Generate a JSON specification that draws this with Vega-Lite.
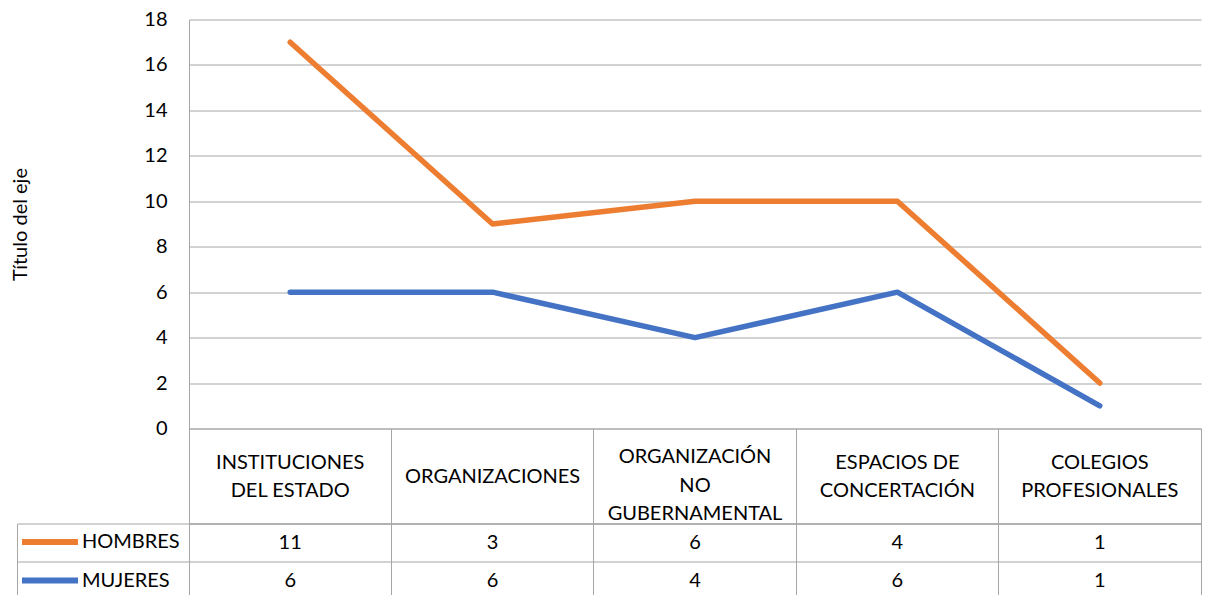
{
  "$schema": "https://vega.github.io/schema/vega-lite/v6.json",
  "padding": {"left": 10, "top": 9.5, "right": 0, "bottom": 0},
  "background": "white",
  "config": {"font": "Lato", "view": {"stroke": null}},
  "datasets": {
    "d": [
      {"cat": "INSTITUCIONES DEL ESTADO", "serie": "HOMBRES", "value": 11},
      {"cat": "ORGANIZACIONES", "serie": "HOMBRES", "value": 3},
      {"cat": "ORGANIZACIÓN NO GUBERNAMENTAL", "serie": "HOMBRES", "value": 6},
      {"cat": "ESPACIOS DE CONCERTACIÓN", "serie": "HOMBRES", "value": 4},
      {"cat": "COLEGIOS PROFESIONALES", "serie": "HOMBRES", "value": 1},
      {"cat": "INSTITUCIONES DEL ESTADO", "serie": "MUJERES", "value": 6},
      {"cat": "ORGANIZACIONES", "serie": "MUJERES", "value": 6},
      {"cat": "ORGANIZACIÓN NO GUBERNAMENTAL", "serie": "MUJERES", "value": 4},
      {"cat": "ESPACIOS DE CONCERTACIÓN", "serie": "MUJERES", "value": 6},
      {"cat": "COLEGIOS PROFESIONALES", "serie": "MUJERES", "value": 1}
    ]
  },
  "bounds": "flush",
  "spacing": 0,
  "hconcat": [
    {
      "width": 172,
      "height": 581,
      "data": {"name": "d"},
      "mark": {"type": "point", "opacity": 0},
      "encoding": {
        "y": {
          "field": "serie",
          "type": "nominal",
          "scale": {"type": "band", "domain": ["HOMBRES", "MUJERES"], "range": [504, 581], "paddingInner": 0, "paddingOuter": 0},
          "axis": {"title": null, "labels": false, "ticks": false, "domain": true, "domainColor": "#A6A6A6", "grid": true, "gridColor": "#A6A6A6", "bandPosition": 0}
        }
      }
    },
    {
      "bounds": "flush",
      "spacing": 0,
      "vconcat": [
        {
          "width": 1012,
          "height": 409,
          "data": {"name": "d"},
          "transform": [
            {"stack": "value", "groupby": ["cat"], "sort": [{"field": "serie", "order": "descending"}], "as": ["v0", "v1"]}
          ],
          "mark": {"type": "line", "strokeWidth": 5.5, "strokeCap": "round", "strokeJoin": "round"},
          "encoding": {
            "x": {
              "field": "cat",
              "type": "nominal",
              "sort": ["INSTITUCIONES DEL ESTADO", "ORGANIZACIONES", "ORGANIZACIÓN NO GUBERNAMENTAL", "ESPACIOS DE CONCERTACIÓN", "COLEGIOS PROFESIONALES"],
              "scale": {"type": "point", "padding": 0.5},
              "axis": null
            },
            "y": {
              "field": "v1",
              "type": "quantitative",
              "scale": {"domain": [0, 18], "nice": false},
              "axis": {
                "values": [0, 2, 4, 6, 8, 10, 12, 14, 16, 18],
                "title": "Título del eje",
                "titleFontSize": 20,
                "titleFontWeight": "normal",
                "titleColor": "#000000",
                "titlePadding": 113,
                "labelFontSize": 20,
                "labelColor": "#000000",
                "labelPadding": 22,
                "ticks": false,
                "domainColor": "#A6A6A6",
                "gridColor": "#A6A6A6"
              }
            },
            "color": {
              "field": "serie",
              "type": "nominal",
              "scale": {"domain": ["HOMBRES", "MUJERES"], "range": ["#ED7D31", "#4472C4"]},
              "legend": {
                "orient": "none",
                "legendX": 2,
                "legendY": 512.5,
                "title": null,
                "symbolType": "stroke",
                "symbolSize": 3136,
                "symbolStrokeWidth": 6,
                "clipHeight": 20,
                "labelFontSize": 20,
                "labelColor": "#000000",
                "labelOffset": 1,
                "rowPadding": 18.5
              }
            }
          }
        },
        {
          "width": 1012,
          "height": 95,
          "view": {"stroke": "#A6A6A6"},
          "data": {"name": "d"},
          "transform": [{"filter": "datum.serie === 'HOMBRES'"}],
          "encoding": {
            "x": {
              "field": "cat",
              "type": "nominal",
              "sort": ["INSTITUCIONES DEL ESTADO", "ORGANIZACIONES", "ORGANIZACIÓN NO GUBERNAMENTAL", "ESPACIOS DE CONCERTACIÓN", "COLEGIOS PROFESIONALES"],
              "scale": {"type": "band", "paddingInner": 0, "paddingOuter": 0},
              "axis": {"title": null, "labels": false, "ticks": false, "domain": false, "grid": true, "gridColor": "#A6A6A6", "bandPosition": 0}
            }
          },
          "layer": [
            {
              "transform": [{"filter": "datum.cat === 'ORGANIZACIONES'"}],
              "mark": {"type": "text", "fontSize": 20, "baseline": "middle", "align": "center", "color": "#000000", "dy": 1},
              "encoding": {"text": {"field": "cat", "type": "nominal"}}
            },
            {
              "transform": [{"filter": "datum.cat === 'INSTITUCIONES DEL ESTADO' || datum.cat === 'ESPACIOS DE CONCERTACIÓN' || datum.cat === 'COLEGIOS PROFESIONALES'"}],
              "mark": {"type": "text", "fontSize": 20, "lineHeight": 28.5, "baseline": "middle", "align": "center", "color": "#000000", "dy": -13.5},
              "encoding": {
                "text": {
                  "condition": [
                    {"test": "datum.cat === 'INSTITUCIONES DEL ESTADO'", "value": ["INSTITUCIONES", "DEL ESTADO"]},
                    {"test": "datum.cat === 'ESPACIOS DE CONCERTACIÓN'", "value": ["ESPACIOS DE", "CONCERTACIÓN"]},
                    {"test": "datum.cat === 'COLEGIOS PROFESIONALES'", "value": ["COLEGIOS", "PROFESIONALES"]}
                  ],
                  "field": "cat",
                  "type": "nominal"
                }
              }
            },
            {
              "transform": [{"filter": "datum.cat === 'ORGANIZACIÓN NO GUBERNAMENTAL'"}],
              "mark": {"type": "text", "fontSize": 20, "lineHeight": 28.5, "baseline": "middle", "align": "center", "color": "#000000", "dy": -19},
              "encoding": {"text": {"value": ["ORGANIZACIÓN", "NO", "GUBERNAMENTAL"]}}
            }
          ]
        },
        {
          "width": 1012,
          "height": 77,
          "view": {"stroke": "#A6A6A6"},
          "data": {"name": "d"},
          "mark": {"type": "text", "fontSize": 20, "baseline": "middle", "align": "center", "color": "#000000"},
          "encoding": {
            "x": {
              "field": "cat",
              "type": "nominal",
              "sort": ["INSTITUCIONES DEL ESTADO", "ORGANIZACIONES", "ORGANIZACIÓN NO GUBERNAMENTAL", "ESPACIOS DE CONCERTACIÓN", "COLEGIOS PROFESIONALES"],
              "scale": {"type": "band", "paddingInner": 0, "paddingOuter": 0},
              "axis": {"title": null, "labels": false, "ticks": false, "domain": false, "grid": true, "gridColor": "#A6A6A6", "bandPosition": 0}
            },
            "y": {
              "field": "serie",
              "type": "nominal",
              "scale": {"type": "band", "domain": ["HOMBRES", "MUJERES"], "paddingInner": 0, "paddingOuter": 0},
              "axis": {"title": null, "labels": false, "ticks": false, "domain": false, "grid": true, "gridColor": "#A6A6A6", "bandPosition": 0}
            },
            "text": {"field": "value", "type": "quantitative"}
          }
        }
      ]
    }
  ]
}
